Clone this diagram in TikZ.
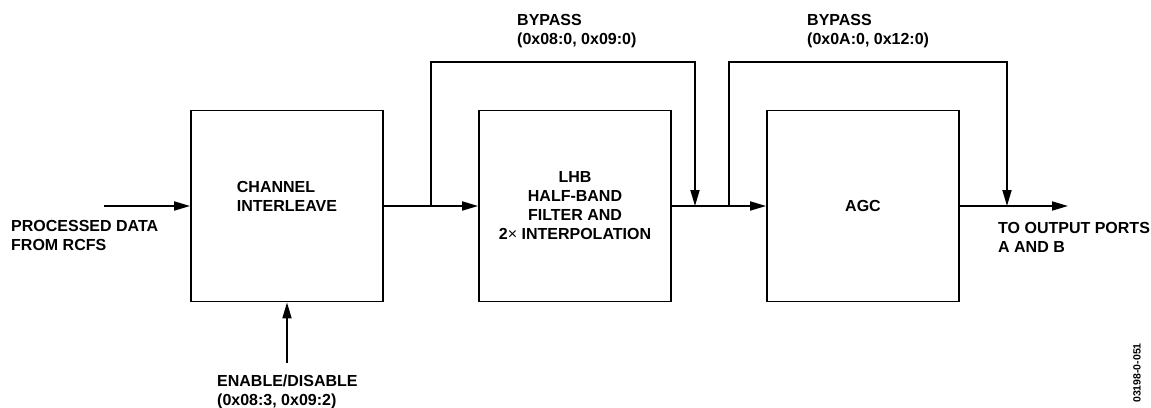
\documentclass[tikz,border=0pt]{standalone}
\usepackage{fontspec}
\setmainfont{Liberation Sans}
\usetikzlibrary{arrows.meta,positioning}

\begin{document}
\begin{tikzpicture}[x=1pt,y=-1pt,
    blocknode/.style={draw, line width=1.8pt, minimum width=192pt, minimum height=191pt, inner sep=0pt, font=\fontsize{16}{19}\selectfont\bfseries, align=center},
    textnode/.style={inner sep=0pt, font=\fontsize{16}{19}\selectfont\bfseries, align=left},
    arr/.style={-{Triangle[length=16pt,width=9pt]}, line width=1.8pt}
  ]
    \useasboundingbox (0,0) rectangle (1151,407);

    \node[blocknode, label={[textnode,yshift=10pt]center:CHANNEL\\INTERLEAVE}] (chan) at (287,206) {};
    \node[blocknode] (lhb) at (575,206) {LHB\\HALF-BAND\\FILTER AND\\2{\mdseries×} INTERPOLATION};
    \node[blocknode] (agc) at (863,206) {AGC};

    \coordinate (src) at (104,206);
    \coordinate (en) at (287,363);
    \coordinate (tap1) at (431,206);
    \coordinate (join1) at (695,206);
    \coordinate (tap2) at (729,206);
    \coordinate (join2) at (1007,206);
    \coordinate (dst) at (1068,206);

    \node[textnode, anchor=west] (inlbl) at (11,235) {PROCESSED DATA\\FROM RCFS};
    \node[textnode, anchor=west] (enlbl) at (217,392) {ENABLE/DISABLE\\(0x08:3, 0x09:2)};
    \node[textnode, anchor=west] (bp1lbl) at (517,31) {BYPASS\\(0x08:0, 0x09:0)};
    \node[textnode, anchor=west] (bp2lbl) at (807,31) {BYPASS\\(0x0A:0, 0x12:0)};
    \node[textnode, anchor=west] (outlbl) at (998,237) {TO OUTPUT PORTS\\A AND B};
    \node[rotate=90, inner sep=0pt, font=\fontsize{10.5}{12}\selectfont\bfseries] (figid) at (1137,373) {03198-0-051};

    \draw[arr] (src) -- (chan);
    \draw[arr] (en) -- (chan);
    \draw[arr] (chan) -- (lhb);
    \draw[arr] (lhb) -- (agc);
    \draw[arr] (agc) -- (dst);
    \draw[arr] (tap1) -- ++(0,-144) -| (join1);
    \draw[arr] (tap2) -- ++(0,-144) -| (join2);
  \end{tikzpicture}
\end{document}
